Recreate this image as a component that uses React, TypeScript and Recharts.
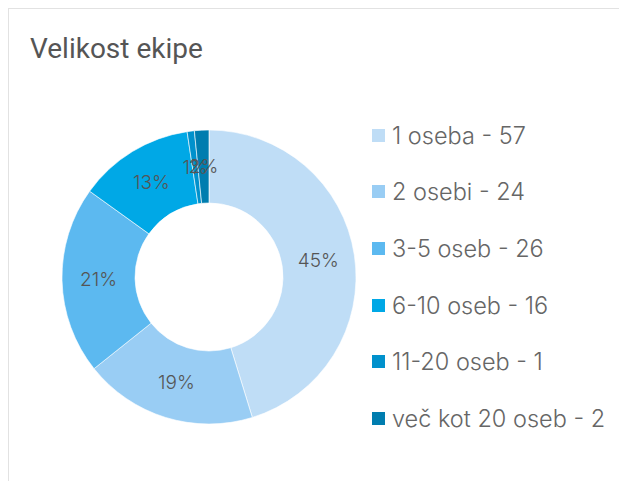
import { Cell, Legend, Pie, PieChart } from "recharts";

const categories = ["1 oseba", "2 osebi", "3-5 oseb", "6-10 oseb", "11-20 oseb", "več kot 20 oseb"];
const counts = [57, 24, 26, 16, 1, 2];
const colors = ["#bfddf6", "#99cdf4", "#5cb9f0", "#00a8e6", "#0091cc", "#007daf"];

const data = categories.map((name, i) => ({ name, value: counts[i] }));
const total = counts.reduce((a, b) => a + b, 0);

const RAD = Math.PI / 180;

function SliceLabel(props: any) {
  const { cx, cy, midAngle, innerRadius, outerRadius, value } = props;
  const r = (innerRadius + outerRadius) / 2;
  const x = cx + r * Math.cos(-midAngle * RAD);
  const y = cy + r * Math.sin(-midAngle * RAD);
  return (
    <text
      x={x}
      y={y}
      fill="#555"
      fontSize={19}
      fontWeight={300}
      fontFamily="Inter, sans-serif"
      textAnchor="middle"
      dominantBaseline="central"
    >
      {Math.round((value / total) * 100)}%
    </text>
  );
}

function LegendList() {
  return (
    <div style={{ display: "flex", flexDirection: "column" }}>
      {data.map((d, i) => (
        <div key={d.name} style={{ display: "flex", alignItems: "center", height: 56.6 }}>
          <span style={{ width: 13, height: 13, background: colors[i], marginRight: 7, flexShrink: 0 }} />
          <span
            style={{
              fontFamily: "Inter, sans-serif",
              fontSize: 23.5,
              fontWeight: 300,
              color: "#666",
              whiteSpace: "nowrap",
            }}
          >
            {d.name} - {d.value}
          </span>
        </div>
      ))}
    </div>
  );
}

export default function App() {
  return (
    <div
      style={{
        position: "relative",
        width: 619,
        height: 474,
        marginLeft: -1,
        marginTop: -1,
        borderLeft: "2px solid #e2e2e2",
        borderTop: "2px solid #e2e2e2",
        boxSizing: "border-box",
        background: "#fff",
      }}
    >
      <div
        style={{
          position: "absolute",
          left: 21,
          top: 23,
          fontFamily: "Roboto, sans-serif",
          fontSize: 28,
          color: "#555",
        }}
      >
        Velikost ekipe
      </div>
      <div style={{ position: "absolute", left: -2, top: -2 }}>
        <PieChart width={619} height={474}>
          <Pie
            data={data}
            dataKey="value"
            nameKey="name"
            cx={197}
            cy={265}
            innerRadius={74}
            outerRadius={147}
            startAngle={90}
            endAngle={-270}
            stroke="#ffffff"
            strokeWidth={0.6}
            label={SliceLabel}
            labelLine={false}
            isAnimationActive={false}
          >
            {data.map((d, i) => (
              <Cell key={d.name} fill={colors[i]} />
            ))}
          </Pie>
          <Legend
            content={() => <LegendList />}
            wrapperStyle={{ position: "absolute", left: 365, top: 100, width: 255 }}
          />
        </PieChart>
      </div>
    </div>
  );
}
